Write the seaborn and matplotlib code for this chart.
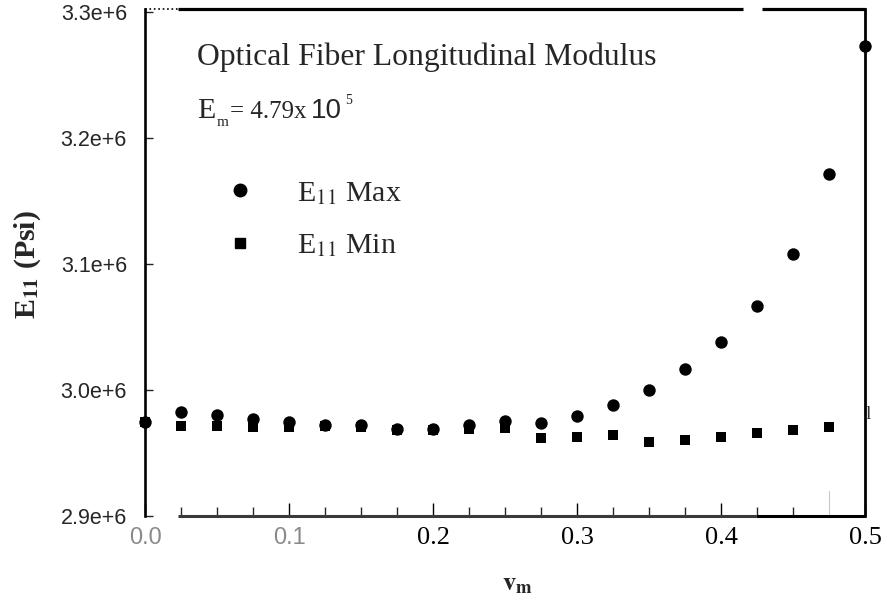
import numpy as np
import pandas as pd
import matplotlib
matplotlib.use("Agg")
import matplotlib.pyplot as plt
from matplotlib.lines import Line2D
from matplotlib.ticker import FixedLocator, FuncFormatter
import seaborn as sns

# ---------------- data ----------------
nu_m = [0.0, 0.025, 0.05, 0.075, 0.1, 0.125, 0.15, 0.175, 0.2, 0.225, 0.25,
        0.275, 0.3, 0.325, 0.35, 0.375, 0.4, 0.425, 0.45, 0.475, 0.5]
e11_max = [2.9746e6, 2.9825e6, 2.9802e6, 2.9770e6, 2.9746e6, 2.9722e6, 2.9722e6,
           2.9690e6, 2.9690e6, 2.9722e6, 2.9754e6, 2.9738e6, 2.9794e6, 2.9881e6,
           3.0000e6, 3.0167e6, 3.0381e6, 3.0667e6, 3.1079e6, 3.1714e6, 3.2730e6]
nu_m_min = [0.0, 0.025, 0.05, 0.075, 0.1, 0.125, 0.15, 0.175, 0.2, 0.225, 0.25,
            0.275, 0.3, 0.325, 0.35, 0.375, 0.4, 0.425, 0.45, 0.475]
e11_min = [2.9746e6, 2.9714e6, 2.9714e6, 2.9706e6, 2.9706e6, 2.9714e6, 2.9706e6,
           2.9683e6, 2.9683e6, 2.9690e6, 2.9698e6, 2.9619e6, 2.9627e6, 2.9643e6,
           2.9587e6, 2.9603e6, 2.9627e6, 2.9659e6, 2.9683e6, 2.9706e6]
x_tick_values = [0.0, 0.1, 0.2, 0.3, 0.4, 0.5]
x_tick_labels = ["0.0", "0.1", "0.2", "0.3", "0.4", "0.5"]
y_tick_values = [2.9e6, 3.0e6, 3.1e6, 3.2e6, 3.3e6]
title_text = "Optical Fiber Longitudinal Modulus"
em_symbol = ("E", "m")
em_value = "= 4.79x"
em_power = ("10", "5")
legend_labels = [r"E$_{11}$ Max", r"E$_{11}$ Min"]
ylabel_text = r"E$_{\mathbf{11}}$ (Psi)"
xlabel_text = r"$\mathbf{v}_{\mathbf{m}}$"

# ---------------- style ----------------
sns.set_style("white")
plt.rcParams["font.family"] = ["Liberation Serif", "DejaVu Serif"]
plt.rcParams["mathtext.fontset"] = "stix"

W, H = 883, 605
fig = plt.figure(figsize=(W / 100, H / 100), dpi=100)


def fx(px):
    return px / W


def fy(py):
    return 1 - py / H


ax = fig.add_axes([fx(145), fy(516), (865 - 145) / W, (516 - 9) / H])

df_max = pd.DataFrame({"nu": nu_m, "E": e11_max})
df_min = pd.DataFrame({"nu": nu_m_min, "E": e11_min})

sns.scatterplot(data=df_min, x="nu", y="E", marker="s", s=55, color="black",
                linewidth=0, ax=ax, clip_on=False, zorder=3)
sns.scatterplot(data=df_max, x="nu", y="E", marker="o", s=80, color="black",
                linewidth=0, ax=ax, clip_on=False, zorder=4)

ax.set_xlim(0, 0.5)
ax.set_ylim(2.9e6, 3.3024e6)
ax.set_xlabel("")
ax.set_ylabel("")

# ticks
ax.xaxis.set_major_locator(FixedLocator(x_tick_values))
ax.set_xticklabels(x_tick_labels)
ax.xaxis.set_minor_locator(FixedLocator([0.025 * i for i in range(1, 19) if i % 4]))
ax.tick_params(axis="x", which="major", direction="in", length=9.5, width=1,
               pad=8, bottom=True, labelsize=19, colors="black")
ax.tick_params(axis="x", which="minor", direction="in", length=6.5, width=1,
               bottom=True)
for i, lab in enumerate(ax.get_xticklabels()):
    if i < 2:
        lab.set_fontfamily("Liberation Sans")
        lab.set_color("#8a8a8a")
        lab.set_fontsize(17)
    else:
        lab.set_fontfamily("Liberation Serif")
        lab.set_color("black")

ax.yaxis.set_major_locator(FixedLocator(y_tick_values))
ax.yaxis.set_major_formatter(FuncFormatter(lambda v, p: f"{v / 1e6:.1f}e+6"))
ax.tick_params(axis="y", direction="in", length=6, width=1, pad=13,
               labelsize=15.5, left=True)
for lab in ax.get_yticklabels():
    lab.set_fontfamily("Liberation Sans")

# spines (broken, scanned look)
for s in ["top", "bottom"]:
    ax.spines[s].set_visible(False)
ax.spines["left"].set_linewidth(1.9)
ax.spines["right"].set_linewidth(2.0)
ax.spines["left"].set_color("black")
ax.spines["right"].set_color("black")

segs = [((0.0458, 0.8306), 1.0, 2.3, "-", "black"),
        ((0.8569, 1.0), 1.0, 2.3, "-", "black"),
        ((0.0, 0.0458), 1.0, 1.2, ":", "black"),
        ((0.0458, 0.8486), 0.0, 2.2, "-", "#3a3a3a"),
        ((0.8486, 1.0), 0.0, 2.2, "-", "black")]
for (x0, x1), yy, lw, ls, col in segs:
    ax.add_line(Line2D([x0, x1], [yy, yy], transform=ax.transAxes, color=col,
                       lw=lw, ls=ls, clip_on=False, solid_capstyle="butt",
                       zorder=6))
ax.add_line(Line2D([0.475, 0.475], [0, 0.05], transform=ax.get_xaxis_transform(),
                   color="#c8c8c8", lw=0.8))

# legend
handles = [Line2D([], [], marker="o", color="black", ls="", markersize=9),
           Line2D([], [], marker="s", color="black", ls="", markersize=7.5)]
ax.legend(handles, legend_labels, loc="upper left",
          bbox_to_anchor=(fx(225), fy(180)), bbox_transform=fig.transFigure,
          frameon=False, fontsize=21.5, handlelength=1.0, handletextpad=1.4,
          labelspacing=0.85, borderpad=0, borderaxespad=0)

# annotations
fig.text(fx(197), fy(65), title_text, fontsize=22.8, va="baseline", ha="left")
fig.text(fx(197), fy(118), em_symbol[0], fontsize=21.5, va="baseline", ha="left")
fig.text(fx(217), fy(126), em_symbol[1], fontsize=11, va="baseline", ha="left")
fig.text(fx(230), fy(118), em_value, fontsize=18, va="baseline", ha="left")
fig.text(fx(311), fy(118), em_power[0], fontsize=20, va="baseline", ha="left",
         family="Liberation Sans")
fig.text(fx(345), fy(104), em_power[1], fontsize=10, va="baseline", ha="left")
fig.text(fx(866), fy(419), "l", fontsize=14, va="baseline", ha="left", color="#333333")

fig.text(fx(28), fy(265), ylabel_text, rotation=90, ha="center", va="center",
         fontsize=21.5, fontweight="bold")
fig.text(fx(517), fy(590), xlabel_text, ha="center", va="baseline", fontsize=19)

fig.savefig("out.png", dpi=100)
